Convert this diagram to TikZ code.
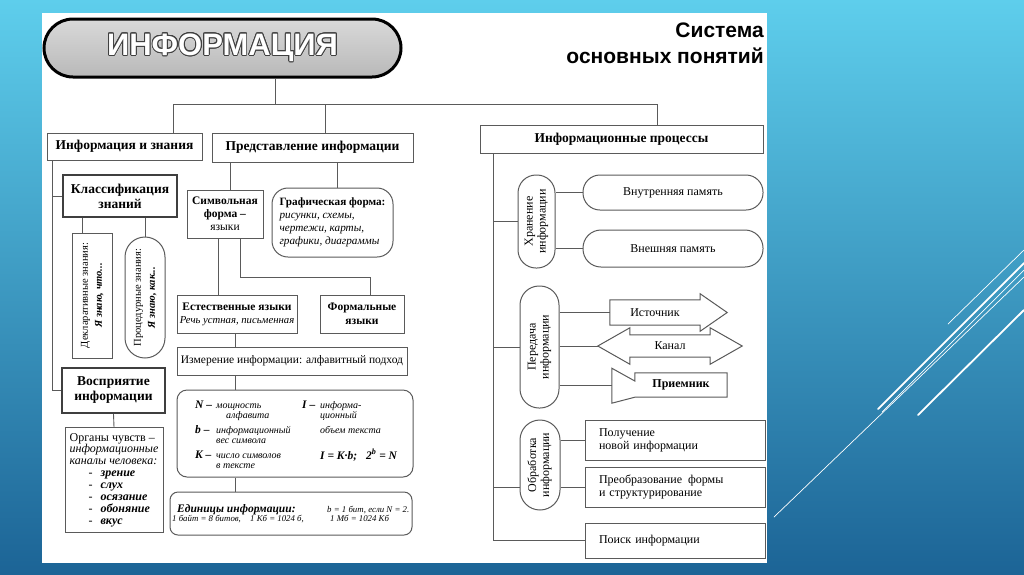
\documentclass[tikz,border=0pt]{standalone}
\usepackage{fontspec}
\setmainfont{Liberation Serif}
\newfontfamily\headfont{Liberation Sans}
\usepackage{graphicx}
\usepackage[copies]{contour}
\contourlength{0.9pt}
\usetikzlibrary{calc,positioning}
\definecolor{skytop}{RGB}{94,206,236}
\definecolor{skybot}{RGB}{28,100,150}
\definecolor{ink}{RGB}{90,90,90}
\newcommand{\sz}[2]{\fontsize{#1}{#2}\selectfont}
\newcommand{\vtext}[2]{\rotatebox{90}{\begin{tabular}{@{}c@{}}#1\\#2\end{tabular}}}
\newcommand{\twoline}[2]{\begin{tabular}[t]{@{}l@{}}#1\\#2\end{tabular}}
\tikzset{
  box/.style={draw=ink,line width=1pt,fill=white,align=center,inner sep=2pt,font=\sz{11.5}{13}},
  hbox/.style={box,font=\sz{13.5}{15}\bfseries},
  tbox/.style={box,line width=2.2pt,draw=ink!70!black,font=\sz{13.5}{15}\bfseries},
  pill/.style={box,rounded corners=#1},
  rbox/.style={box,font=\sz{12}{13}},
  lbox/.style={rbox,align=left,text width=152pt},
  wire/.style={draw=ink,line width=0.9pt},
  shell/.style={draw=ink,line width=1pt},
  inbody/.style={inner sep=0pt,font=\sz{12}{13}},
  txt/.style={inner sep=0pt,anchor=base west,font=\sz{10}{10}\itshape},
  key/.style={txt,font=\sz{11.5}{12}\bfseries\itshape},
  deco/.style={draw=white,line cap=round}
}

\begin{document}
\begin{tikzpicture}[x=1pt,y=-1pt]
\useasboundingbox (0,0) rectangle (1024,574);
\shade[top color=skytop,bottom color=skybot] (0,0) rectangle (1024,574);
% decorative strokes
\draw[deco,line width=0.7pt] (774,517) -- (1024,277);
\draw[deco,line width=0.7pt] (948,324) -- (1024,250);
\draw[deco,line width=1.8pt] (878,409) -- (1024,263);
\draw[deco,line width=0.7pt] (882,412) -- (1024,270);
\draw[deco,line width=1.8pt] (918,415) -- (1024,310);
\fill[white] (42,13) rectangle (767,563);

% header
\node[draw=black,line width=3pt,rounded corners=29pt,top color=gray!30,bottom color=gray!55,
  minimum width=357,minimum height=58,text=white,font=\headfont\bfseries\sz{31}{31}] (info) at (222.5,48)
  {\contour{black!75}{ИНФОРМАЦИЯ}};
\node[anchor=north east,align=right,inner sep=0pt,font=\headfont\bfseries\sz{21}{26}] (title) at (764,23)
  {Система\\основных понятий};

% first level
\node[hbox,minimum width=155,minimum height=27] (know) at (124.5,146.5) {Информация и знания};
\node[hbox,minimum width=201,minimum height=29] (repr) at (312.5,147.5) {Представление информации};
\node[hbox,minimum width=283,minimum height=28] (proc) at (621.5,139) {Информационные процессы};
\coordinate (tl) at (173,104);
\coordinate (tm) at (325,104);
\coordinate (tc) at (275,104);
\coordinate (tr) at (657,104);
\draw[wire] (info.south -| tc) -- (tc);
\draw[wire] (know.north -| tl) -- (tl) -- (tr) -- (proc.north -| tr);
\draw[wire] (tm) -- (repr.north -| tm);

% knowledge branch
\node[tbox,minimum width=114,minimum height=42] (class) at (120,196) {Классификация\\знаний};
\node[box,minimum width=40,minimum height=125,font=\sz{10.5}{14}] (decl) at (92,295.5)
  {\vtext{Декларативные знания:}{\textbf{\textit{Я знаю, что...}}}};
\node[pill=20pt,minimum width=40,minimum height=121,font=\sz{10.5}{14}] (proced) at (145,297.5)
  {\vtext{Процедурные знания:}{\textbf{\textit{Я знаю, как...}}}};
\node[tbox,minimum width=103,minimum height=45] (perc) at (113.5,390.5) {Восприятие\\информации};
\node[box,minimum width=98,minimum height=105,align=left,font=\sz{12}{11.9}] (organ) at (114,480)
  {Органы чувств –\\\textit{информационные}\\\textit{каналы человека:}\\
   \hspace*{19pt}-\hspace{8pt}\textbf{\textit{зрение}}\\\hspace*{19pt}-\hspace{8pt}\textbf{\textit{слух}}\\
   \hspace*{19pt}-\hspace{8pt}\textbf{\textit{осязание}}\\\hspace*{19pt}-\hspace{8pt}\textbf{\textit{обоняние}}\\
   \hspace*{19pt}-\hspace{8pt}\textbf{\textit{вкус}}};
\coordinate (ls) at (52,0);
\coordinate (cd) at (82,0);
\draw[wire] (know.south -| ls) -- (ls |- perc.west) -- (perc.west);
\draw[wire] (ls |- class.west) -- (class.west);
\draw[wire] (class.south -| cd) -- (decl.north -| cd);
\draw[wire] (proced.north |- class.south) -- (proced.north);
\draw[wire] (perc.south) -- (organ.north);

% representation branch
\node[box,minimum width=76,minimum height=48] (sym) at (225,214)
  {\textbf{Символьная}\\\textbf{форма –}\\языки};
\node[pill=16pt,align=left,minimum width=121,minimum height=69,font=\sz{11.2}{13}\itshape] (graph) at (332.5,222.5)
  {\textbf{\upshape Графическая форма:}\\рисунки, схемы,\\чертежи, карты,\\графики, диаграммы};
\node[box,minimum width=120,minimum height=38] (nat) at (237,314)
  {\textbf{Естественные языки}\\{\sz{10.7}{12}\itshape Речь устная, письменная}};
\node[box,minimum width=84,minimum height=38,font=\sz{11.5}{14}\bfseries] (forml) at (362,314) {Формальные\\языки};
\node[box,minimum width=230,minimum height=28] (meas) at (292,361) {Измерение информации: алфавитный подход};
\node[box,rounded corners=10pt,minimum width=236,minimum height=87] (form) at (295,433.5) {};
\node[box,rounded corners=8pt,minimum width=242,minimum height=43] (units) at (291,513.5) {};
\coordinate (sa) at (230,0);
\coordinate (ga) at (337,0);
\coordinate (sn) at (218,0);
\coordinate (sf) at (240,277);
\coordinate (fx) at (370,277);
\coordinate (mx) at (235,0);
\draw[wire] (repr.south -| sa) -- (sym.north -| sa);
\draw[wire] (repr.south -| ga) -- (graph.north -| ga);
\draw[wire] (sym.south -| sn) -- (nat.north -| sn);
\draw[wire] (sym.south -| sf) -- (sf) -- (fx) -- (forml.north -| fx);
\draw[wire] (nat.south -| mx) -- (meas.north -| mx);
\draw[wire] (meas.south -| mx) -- (form.north -| mx);
\draw[wire] (form.south -| mx) -- (units.north -| mx);

% formulas
\node[key] (fn) at (195,408) {N –};
\node[txt] (fn1) at (216,408) {\twoline{мощность}{\hspace*{10pt}алфавита}};
\node[key] (fb) at (195,433) {b –};
\node[txt] (fb1) at (216,433) {\twoline{информационный}{вес символа}};
\node[key] (fk) at (195,458) {K –};
\node[txt] (fk1) at (216,458) {\twoline{число символов}{в тексте}};
\node[key] (fi) at (302,408) {I –};
\node[txt] (fi1) at (320,408) {\twoline{информа-}{ционный}};
\node[txt] (fi3) at (320,433) {объем текста};
\node[key] (feq) at (320,459) {I = K·b;\hspace{9pt}2\textsuperscript{b} = N};
\node[key] (u0) at (177,512) {Единицы информации:};
\node[txt,font=\sz{8.8}{10}\itshape] (u1) at (327,512) {b = 1 бит, если N = 2.};
\node[txt,font=\sz{8.8}{10}\itshape] (u2) at (172,521) {1 байт = 8 битов,};
\node[txt,font=\sz{8.8}{10}\itshape] (u3) at (250,521) {1 Кб = 1024 б,};
\node[txt,font=\sz{8.8}{10}\itshape] (u4) at (330,521) {1 Мб = 1024 Кб};

% processes branch
\node[pill=18pt,minimum width=37,minimum height=93,rbox] (store) at (536.5,221.5) {\vtext{Хранение}{информации}};
\node[pill=17pt,minimum width=180,minimum height=35,rbox] (inmem) at (673,192.5) {Внутренняя память};
\node[pill=18pt,minimum width=180,minimum height=37,rbox] (exmem) at (673,248.5) {Внешняя память};
\node[pill=19pt,minimum width=39,minimum height=122,rbox] (trans) at (539.5,347) {\vtext{Передача}{информации}};
\node[inbody,minimum width=90,minimum height=25] (src) at (655,312.5) {Источник};
\node[inbody,minimum width=80,minimum height=22] (chan) at (670,346) {Канал};
\node[inbody,minimum width=92,minimum height=24] (recv) at (681,385) {\textbf{Приемник}};
\node[pill=20pt,minimum width=40,minimum height=90,rbox] (handle) at (540,465) {\vtext{Обработка}{информации}};
\node[lbox,minimum width=180,minimum height=40] (get) at (675,440) {Получение\\новой информации};
\node[lbox,minimum width=180,minimum height=40] (conv) at (675,487) {Преобразование\hspace{6pt}формы\\и структурирование};
\node[lbox,minimum width=180,minimum height=35] (search) at (675,540.5) {Поиск информации};
\draw[shell] (src.north west) -- (src.north east) -- ++(0,-6) -- ($(src.east)+(27,0)$)
  -- ($(src.south east)+(0,6)$) -- (src.south east) -- (src.south west) -- cycle;
\draw[shell] (chan.north west) -- (chan.north east) -- ++(0,-7) -- ($(chan.east)+(32,0)$)
  -- ($(chan.south east)+(0,7)$) -- (chan.south east) -- (chan.south west) -- ++(0,7)
  -- ($(chan.west)+(-32,0)$) -- ($(chan.north west)+(0,-7)$) -- cycle;
\draw[shell] (recv.north west) -- (recv.north east) -- (recv.south east) -- (recv.south west)
  -- ++(-23,6) -- ++(0,-35) -- ($(recv.west)+(0,-4)$) -- cycle;
\coordinate (chantip) at ($(chan.west)+(-32,0)$);
\coordinate (recvtail) at ($(recv.west)+(-23,0)$);
\coordinate (rs) at (493,0);
\draw[wire] (proc.south -| rs) -- (rs |- search.west) -- (search.west);
\draw[wire] (rs |- store.west) -- (store.west);
\draw[wire] (store.east |- inmem.west) -- (inmem.west);
\draw[wire] (store.east |- exmem.west) -- (exmem.west);
\draw[wire] (rs |- trans.west) -- (trans.west);
\draw[wire] (trans.east |- src.west) -- (src.west);
\draw[wire] (trans.east |- chantip) -- (chantip);
\draw[wire] (trans.east |- recvtail) -- (recvtail);
\draw[wire] (rs |- conv.west) -- (handle.west |- conv.west);
\draw[wire] (handle.east |- get.west) -- (get.west);
\draw[wire] (handle.east |- conv.west) -- (conv.west);
\end{tikzpicture}
\end{document}
